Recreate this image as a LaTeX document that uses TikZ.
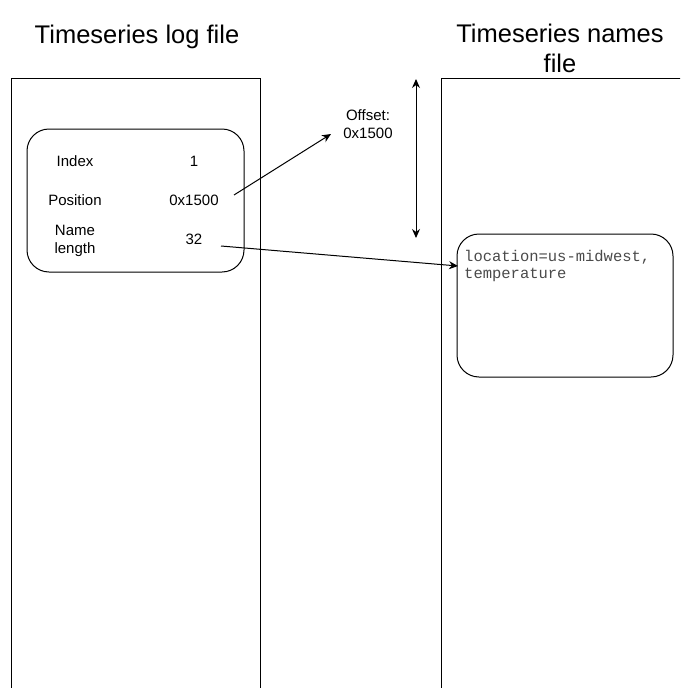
\documentclass[tikz,border=0pt]{standalone}
\usepackage{fontspec}
\setmainfont{Liberation Sans}
\setmonofont{Liberation Mono}
\usetikzlibrary{arrows.meta}
\definecolor{monotext}{HTML}{4A4A4A}
\tikzset{
  filebox/.style={draw=black, line width=1pt},
  fieldbox/.style={draw=black, line width=1pt, rounded corners=22pt},
  heading/.style={font=\fontsize{25.5}{30}\selectfont, align=center, inner sep=0pt},
  cell/.style={font=\fontsize{15}{18}\selectfont, align=center, inner sep=0pt},
  monoline/.style={font=\ttfamily\fontsize{15.5}{17.5}\selectfont, text=monotext, align=left, inner sep=0pt},
  link/.style={line width=1pt, -{Stealth[length=9pt,width=8pt]}},
  span/.style={line width=1pt, {Stealth[length=9pt,width=8pt]}-{Stealth[length=9pt,width=8pt]}}
}
\begin{document}
\begin{tikzpicture}[x=1pt, y=-1pt]
\useasboundingbox (0,0) rectangle (680,688);
\clip (0,0) rectangle (680,688);

% headings
\node[heading] (logtitle) at (137,37) {Timeseries log file};
\node[heading] (namestitle) at (560,48) {Timeseries names\\file};

% the two files, running past the lower edge
\draw[filebox] (11,710) -- (11,78) -- (260,78) -- (260,710);
\draw[filebox] (441,710) -- (441,78) -- (700,78);

% log entry record
\draw[fieldbox] (27,129) rectangle (244,272);
\node[cell] (idxk) at (75,161) {Index};
\node[cell] (idxv) at (194,161) {1};
\node[cell] (posk) at (75,200) {Position};
\node[cell] (posv) at (194,200) {0x1500};
\node[cell] (lenk) at (75,241) {Name\\length};
\node[cell] (lenv) at (194,239) {32};

% entry in the names file
\draw[fieldbox] (457,234) rectangle (673,377);
\node[monoline, anchor=north west] (nametext) at (464,250) {location=us-midwest,\\temperature};

% offset marker
\node[cell] (offset) at (368,124) {Offset:\\0x1500};
\coordinate (offtop) at (416,79);
\coordinate (offbot) at (416,238);
\draw[span] (offtop) -- (offbot);

% connectors
\coordinate (posout) at (234,195);
\coordinate (offin) at (331,134);
\draw[link] (posout) -- (offin);
\coordinate (lenout) at (221,246);
\coordinate (namein) at (458,266);
\draw[link] (lenout) -- (namein);
\end{tikzpicture}
\end{document}
